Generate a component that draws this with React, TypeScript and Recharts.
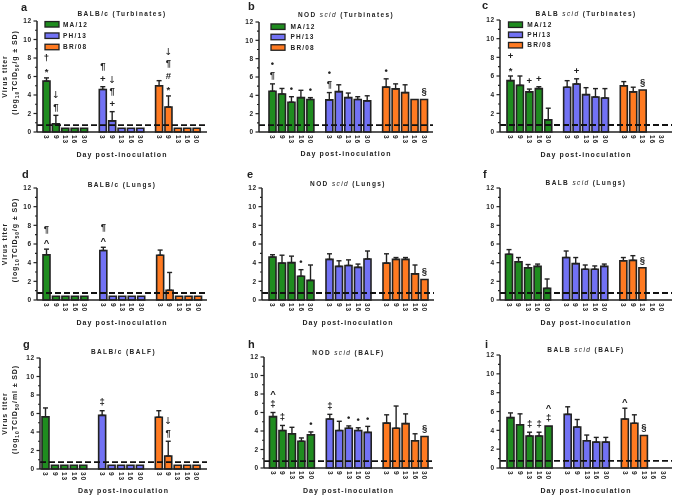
import React from 'react';
import { BarChart, Bar, XAxis, YAxis, ErrorBar, ReferenceLine, LabelList, Cell } from 'recharts';

const FONT = '"Liberation Sans", Arial, Helvetica, sans-serif';
const SYM_FONT = '"DejaVu Sans", "Liberation Sans", sans-serif';
const INK = '#222';

const DAYS = ['3', '9', '13', '16', '30'];
const STRAINS = ['MA/12', 'PH/13', 'BR/08'];
const COLORS = ['#1f8c1f', '#7272f4', '#ff7a21'];
const Y_TICKS = [0, 1, 2, 3, 4, 5, 6, 7, 8, 9, 10, 11, 12];
const LOD = 0.75;

// rows: MA/12, PH/13, BR/08 ; columns: days 3, 9, 13, 16, 30
const meanA = [[5.5, 0.9, 0.4, 0.4, 0.4], [4.6, 1.2, 0.4, 0.4, 0.4], [5.0, 2.7, 0.4, 0.4, 0.4]];
const sdA = [[0.35, 0.9, 0, 0, 0], [0.3, 1.0, 0, 0, 0], [0.55, 1.2, 0, 0, 0]];
const annA = [['* †', '¶ ↓', '', '', ''], ['+ ¶', '+ ¶ ↓', '', '', ''], ['', '* # ¶ ↓', '', '', '']];

const meanB = [[4.45, 4.15, 3.25, 3.75, 3.55], [3.5, 4.4, 3.75, 3.55, 3.4], [4.9, 4.7, 4.3, 3.55, 3.55]];
const sdB = [[0.8, 0.6, 0.6, 0.8, 0.2], [0.8, 0.75, 0.5, 0.3, 0.55], [0.9, 0.55, 0.85, 0, 0]];
const annB = [['¶ •', '', '•', '', '•'], ['¶ •', '', '', '', ''], ['•', '', '', '', '§']];

const meanC = [[5.5, 5.0, 4.3, 4.65, 1.3], [4.8, 5.15, 4.0, 3.75, 3.65], [4.95, 4.3, 4.5, null, null]];
const sdC = [[0.5, 1.0, 0.3, 0.2, 1.25], [0.7, 0.55, 0.75, 0.9, 1.0], [0.45, 0.5, 0, 0, 0]];
const annC = [['* +', '', '+', '+', ''], ['', '+', '', '', ''], ['', '', '§', '', '']];

const meanD = [[4.85, 0.4, 0.4, 0.4, 0.4], [5.3, 0.4, 0.4, 0.4, 0.4], [4.8, 1.05, 0.4, 0.4, 0.4]];
const sdD = [[0.6, 0, 0, 0, 0], [0.35, 0, 0, 0, 0], [0.55, 1.9, 0, 0, 0]];
const annD = [['^ ¶', '', '', '', ''], ['^ ¶', '', '', '', ''], ['', '', '', '', '']];

const meanE = [[4.6, 3.95, 4.0, 2.55, 2.1], [4.35, 3.6, 3.7, 3.5, 4.4], [3.95, 4.35, 4.35, 2.8, 2.2]];
const sdE = [[0.25, 0.85, 0.7, 0.7, 1.65], [0.6, 0.6, 0.6, 0.35, 0.85], [1.0, 0.2, 0.2, 0.95, 0]];
const annE = [['', '', '', '•', ''], ['', '', '', '', ''], ['', '', '', '', '§']];

const meanF = [[4.9, 4.1, 3.45, 3.6, 1.25], [4.55, 3.9, 3.3, 3.3, 3.6], [4.2, 4.25, 3.45, null, null]];
const sdF = [[0.5, 0.45, 0.35, 0.25, 1.0], [0.7, 0.65, 0.45, 0.35, 0.25], [0.35, 0.5, 0, 0, 0]];
const annF = [['', '', '', '', ''], ['', '', '', '', ''], ['', '', '§', '', '']];

const meanG = [[5.65, 0.4, 0.4, 0.4, 0.4], [5.8, 0.4, 0.4, 0.4, 0.4], [5.6, 1.4, 0.4, 0.4, 0.4]];
const sdG = [[0.95, 0, 0, 0, 0], [0.5, 0, 0, 0, 0], [0.7, 1.6, 0, 0, 0]];
const annG = [['', '', '', '', ''], ['‡', '', '', '', ''], ['', '¶ ↓', '', '', '']];

const meanH = [[5.55, 4.05, 3.7, 2.9, 3.6], [5.3, 4.05, 4.3, 4.05, 3.85], [4.85, 4.3, 4.8, 2.95, 3.4]];
const sdH = [[0.45, 0.55, 0.7, 0.35, 0.3], [0.5, 1.0, 0.25, 0.3, 0.65], [0.9, 2.4, 1.05, 0.75, 0]];
const annH = [['‡ ^', '‡', '', '', '•'], ['‡', '', '•', '•', '•'], ['', '', '', '', '§']];

const meanI = [[5.35, 4.6, 3.4, 3.4, 4.45], [5.7, 4.35, 2.9, 2.75, 2.75], [5.2, 4.75, 3.45, null, null]];
const sdI = [[0.5, 1.15, 0.4, 0.4, 0], [0.8, 0.8, 0.6, 0.5, 0.5], [1.15, 0.9, 0, 0, 0]];
const annI = [['', '', '‡', '‡', '‡ ^'], ['', '', '', '', ''], ['^', '', '§', '', '']];

type Row = { day: string; v: number | null; err: number[] | null; lbl: string; g: number };

function buildRows(mean: (number | null)[][], sd: number[][], ann: string[][]): Row[] {
  const rows: Row[] = [];
  for (let g = 0; g < 3; g++) {
    if (g > 0) rows.push({ day: '', v: null, err: null, lbl: '', g: -1 });
    for (let k = 0; k < 5; k++) {
      const v = mean[g][k];
      const s = sd[g][k];
      rows.push({
        day: DAYS[k],
        v,
        err: v != null && s > 0 ? [0, s] : null,
        lbl: v != null ? `${s}|${ann[g][k]}` : '',
        g,
      });
    }
  }
  return rows;
}

type Spec = {
  id: string; x0: number; y0: number; x1: number; yb: number; padL: number; padR: number;
  mean: (number | null)[][]; sd: number[][]; ann: string[][];
  t1: string; tIt?: string; t2?: string; titleY: number; letterX: number; letterY: number; xlabY: number;
  unit?: string; legend?: { sx: number; tx: number; rows: number[] };
};

const PANELS: Spec[] = [
  { id: 'a', x0: 37, y0: 21, x1: 207, yb: 132, padL: 5, padR: 5.5, mean: meanA, sd: sdA, ann: annA,
    t1: 'BALB/c (Turbinates)', titleY: 16, letterX: 21, letterY: 10.5, xlabY: 156.5, unit: 'g',
    legend: { sx: 45, tx: 63, rows: [24.3, 35.7, 47] } },
  { id: 'b', x0: 259, y0: 22, x1: 433, yb: 132, padL: 9, padR: 4, mean: meanB, sd: sdB, ann: annB,
    t1: 'NOD ', tIt: 'scid', t2: ' (Turbinates)', titleY: 16.5, letterX: 248, letterY: 10, xlabY: 156,
    legend: { sx: 271, tx: 290.5, rows: [26.7, 37, 47.5] } },
  { id: 'c', x0: 500, y0: 20, x1: 672, yb: 132, padL: 6, padR: 5.5, mean: meanC, sd: sdC, ann: annC,
    t1: 'BALB ', tIt: 'scid', t2: ' (Turbinates)', titleY: 16, letterX: 482, letterY: 9, xlabY: 156.5,
    legend: { sx: 508.5, tx: 527.3, rows: [24.7, 34.8, 45.2] } },
  { id: 'd', x0: 37, y0: 188, x1: 207, yb: 300, padL: 5, padR: 4, mean: meanD, sd: sdD, ann: annD,
    t1: 'BALB/c (Lungs)', titleY: 187, letterX: 22, letterY: 178, xlabY: 325, unit: 'g' },
  { id: 'e', x0: 262, y0: 188, x1: 434, yb: 300, padL: 6, padR: 4.5, mean: meanE, sd: sdE, ann: annE,
    t1: 'NOD ', tIt: 'scid', t2: ' (Lungs)', titleY: 185.5, letterX: 247, letterY: 177.5, xlabY: 325 },
  { id: 'f', x0: 500, y0: 188, x1: 672, yb: 300, padL: 4.5, padR: 5.5, mean: meanF, sd: sdF, ann: annF,
    t1: 'BALB ', tIt: 'scid', t2: ' (Lungs)', titleY: 185, letterX: 483, letterY: 178, xlabY: 325 },
  { id: 'g', x0: 40, y0: 358, x1: 207, yb: 469, padL: 1, padR: 5.5, mean: meanG, sd: sdG, ann: annG,
    t1: 'BALB/c (BALF)', titleY: 353.5, letterX: 23, letterY: 347.5, xlabY: 493, unit: 'ml' },
  { id: 'h', x0: 264, y0: 357, x1: 433, yb: 468, padL: 4.5, padR: 3.5, mean: meanH, sd: sdH, ann: annH,
    t1: 'NOD ', tIt: 'scid', t2: ' (BALF)', titleY: 354.5, letterX: 248, letterY: 348, xlabY: 493 },
  { id: 'i', x0: 500, y0: 355, x1: 672, yb: 468, padL: 6, padR: 4, mean: meanI, sd: sdI, ann: annI,
    t1: 'BALB ', tIt: 'scid', t2: ' (BALF)', titleY: 352, letterX: 485, letterY: 348, xlabY: 492.5 },
];

const GLYPH_DY: Record<string, number> = {
  '*': 0.58, '•': 0.36, '+': 0.33, '¶': 0.26, '†': 0.28, '‡': 0.28, '#': 0.34, '^': 0.52, '§': 0.3, '↓': 0.33,
};

const makeAnn = (ppu: number) => (props: any) => {
  const { x, y, width, value } = props;
  if (typeof value !== 'string') return null;
  const parts = value.split('|');
  if (parts.length < 2 || !parts[1]) return null;
  const top = Number(y) - parseFloat(parts[0]) * ppu;
  const cx = Number(x) + Number(width) / 2;
  const fs = 9.5;
  return (
    <g fill={INK} stroke="none">
      {parts[1].split(' ').map((s, i) => {
        const c = top - 8 - 12 * i;
        return (
          <text key={i} x={cx} y={c + (GLYPH_DY[s] ?? 0.3) * fs} textAnchor="middle" fontSize={fs}
            fontWeight={s === '↓' ? 'normal' : 'bold'} fontFamily={s === '↓' ? SYM_FONT : FONT}
            fill={INK} stroke="none" style={{ fill: INK, stroke: 'none' }}>{s}</text>
        );
      })}
    </g>
  );
};

const XTick = (props: any) => {
  const { x, y, payload } = props;
  if (!payload || !payload.value) return <g />;
  return (
    <text transform={`translate(${x},${y}) rotate(90)`} x={0} y={0} textAnchor="start" dominantBaseline="central"
      fontSize={6.5} fontWeight="bold" fontFamily={FONT} letterSpacing={0.8} fill={INK}>{payload.value}</text>
  );
};

const YTick = (props: any) => {
  const { x, y, payload } = props;
  const v = Number(payload.value);
  const major = v % 2 === 0;
  return (
    <g>
      <line x1={x - (major ? 3.5 : 2)} x2={x} y1={y} y2={y} stroke={INK} strokeWidth={1.2} />
      {major && (
        <text x={x - 5.5} y={y} dy="0.35em" textAnchor="end" fontSize={6.5} fontWeight="bold" fontFamily={FONT}
          letterSpacing={0.5} fill={INK}>{v}</text>
      )}
    </g>
  );
};

function Panel({ p }: { p: Spec }) {
  const rows = buildRows(p.mean, p.sd, p.ann);
  const plotH = p.yb - p.y0;
  const W = 30 + (p.x1 - p.x0) + 4;
  const H = 10 + plotH + 22;
  const ppu = plotH / 12;
  return (
    <div style={{ position: 'absolute', left: p.x0 - 30, top: p.y0 - 10, willChange: 'transform' }}>
      <BarChart width={W} height={H} data={rows} margin={{ top: 10, right: 4, bottom: 0, left: 0 }} barSize={7}>
        <XAxis dataKey="day" interval={0} tickLine={false} tickSize={0} tickMargin={3} height={22}
          axisLine={{ stroke: INK, strokeWidth: 1.5 }} tick={(tp: any) => <XTick {...tp} />}
          padding={{ left: p.padL, right: p.padR }} allowDuplicatedCategory />
        <YAxis type="number" width={30} domain={[0, 12]} ticks={Y_TICKS} interval={0} tickLine={false} tickSize={0}
          tickMargin={0} axisLine={{ stroke: INK, strokeWidth: 1.5 }} tick={(tp: any) => <YTick {...tp} />} />
        <Bar dataKey="v" isAnimationActive={false} stroke={INK} strokeWidth={1.6}>
          {rows.map((r, i) => (
            <Cell key={i} fill={r.g >= 0 ? COLORS[r.g] : 'none'} />
          ))}
          <ErrorBar dataKey="err" direction="y" width={2.5} stroke={INK} strokeWidth={1.4} isAnimationActive={false} />
          <LabelList dataKey="lbl" content={makeAnn(ppu)} />
        </Bar>
        <ReferenceLine y={LOD} stroke="#111" strokeWidth={1.8} strokeDasharray="6 3" />
      </BarChart>
    </div>
  );
}

function Overlay() {
  const txt = { fontFamily: FONT, fontWeight: 'bold' as const, fill: INK };
  return (
    <svg width={675} height={497} style={{ position: 'absolute', left: 0, top: 0, pointerEvents: 'none' }}>
      {PANELS.map((p) => {
        const cx = (p.x0 + p.x1) / 2;
        const cy = (p.y0 + p.yb) / 2;
        return (
          <g key={p.id}>
            <text x={p.letterX} y={p.letterY} fontSize={11} {...txt}>{p.id}</text>
            <text x={cx} y={p.titleY} textAnchor="middle" fontSize={6.5} letterSpacing={1.4} {...txt}>
              {p.t1}
              {p.tIt && <tspan fontStyle="italic" fontWeight="normal">{p.tIt}</tspan>}
              {p.t2 && <tspan>{p.t2}</tspan>}
            </text>
            <text x={cx} y={p.xlabY} textAnchor="middle" fontSize={7} letterSpacing={1.1} {...txt}>Day post-inoculation</text>
            {p.unit && (
              <g>
                <text transform={`translate(7.3, ${cy}) rotate(-90)`} textAnchor="middle" fontSize={7}
                  letterSpacing={0.9} {...txt}>Virus titer</text>
                <text transform={`translate(17, ${cy - 4}) rotate(-90)`} textAnchor="middle" fontSize={7}
                  letterSpacing={0.9} {...txt}>
                  (log<tspan fontSize={5} dy={1.8}>10</tspan><tspan dy={-1.8}>TCID</tspan>
                  <tspan fontSize={5} dy={1.8}>50</tspan><tspan dy={-1.8}>{`/${p.unit} ± SD)`}</tspan>
                </text>
              </g>
            )}
            {p.legend && p.legend.rows.map((ry, k) => (
              <g key={k}>
                <rect x={p.legend!.sx} y={ry - 2.75} width={14} height={5.5} fill={COLORS[k]} stroke={INK} strokeWidth={1.3} />
                <text x={p.legend!.tx} y={ry} dy="0.35em" fontSize={6.5} letterSpacing={1.2} {...txt}>{STRAINS[k]}</text>
              </g>
            ))}
          </g>
        );
      })}
    </svg>
  );
}

export default function App() {
  return (
    <div style={{ position: 'absolute', left: 0, top: 0, width: 675, height: 497, background: '#fff', overflow: 'hidden' }}>
      {PANELS.map((p) => (
        <Panel key={p.id} p={p} />
      ))}
      <Overlay />
    </div>
  );
}
